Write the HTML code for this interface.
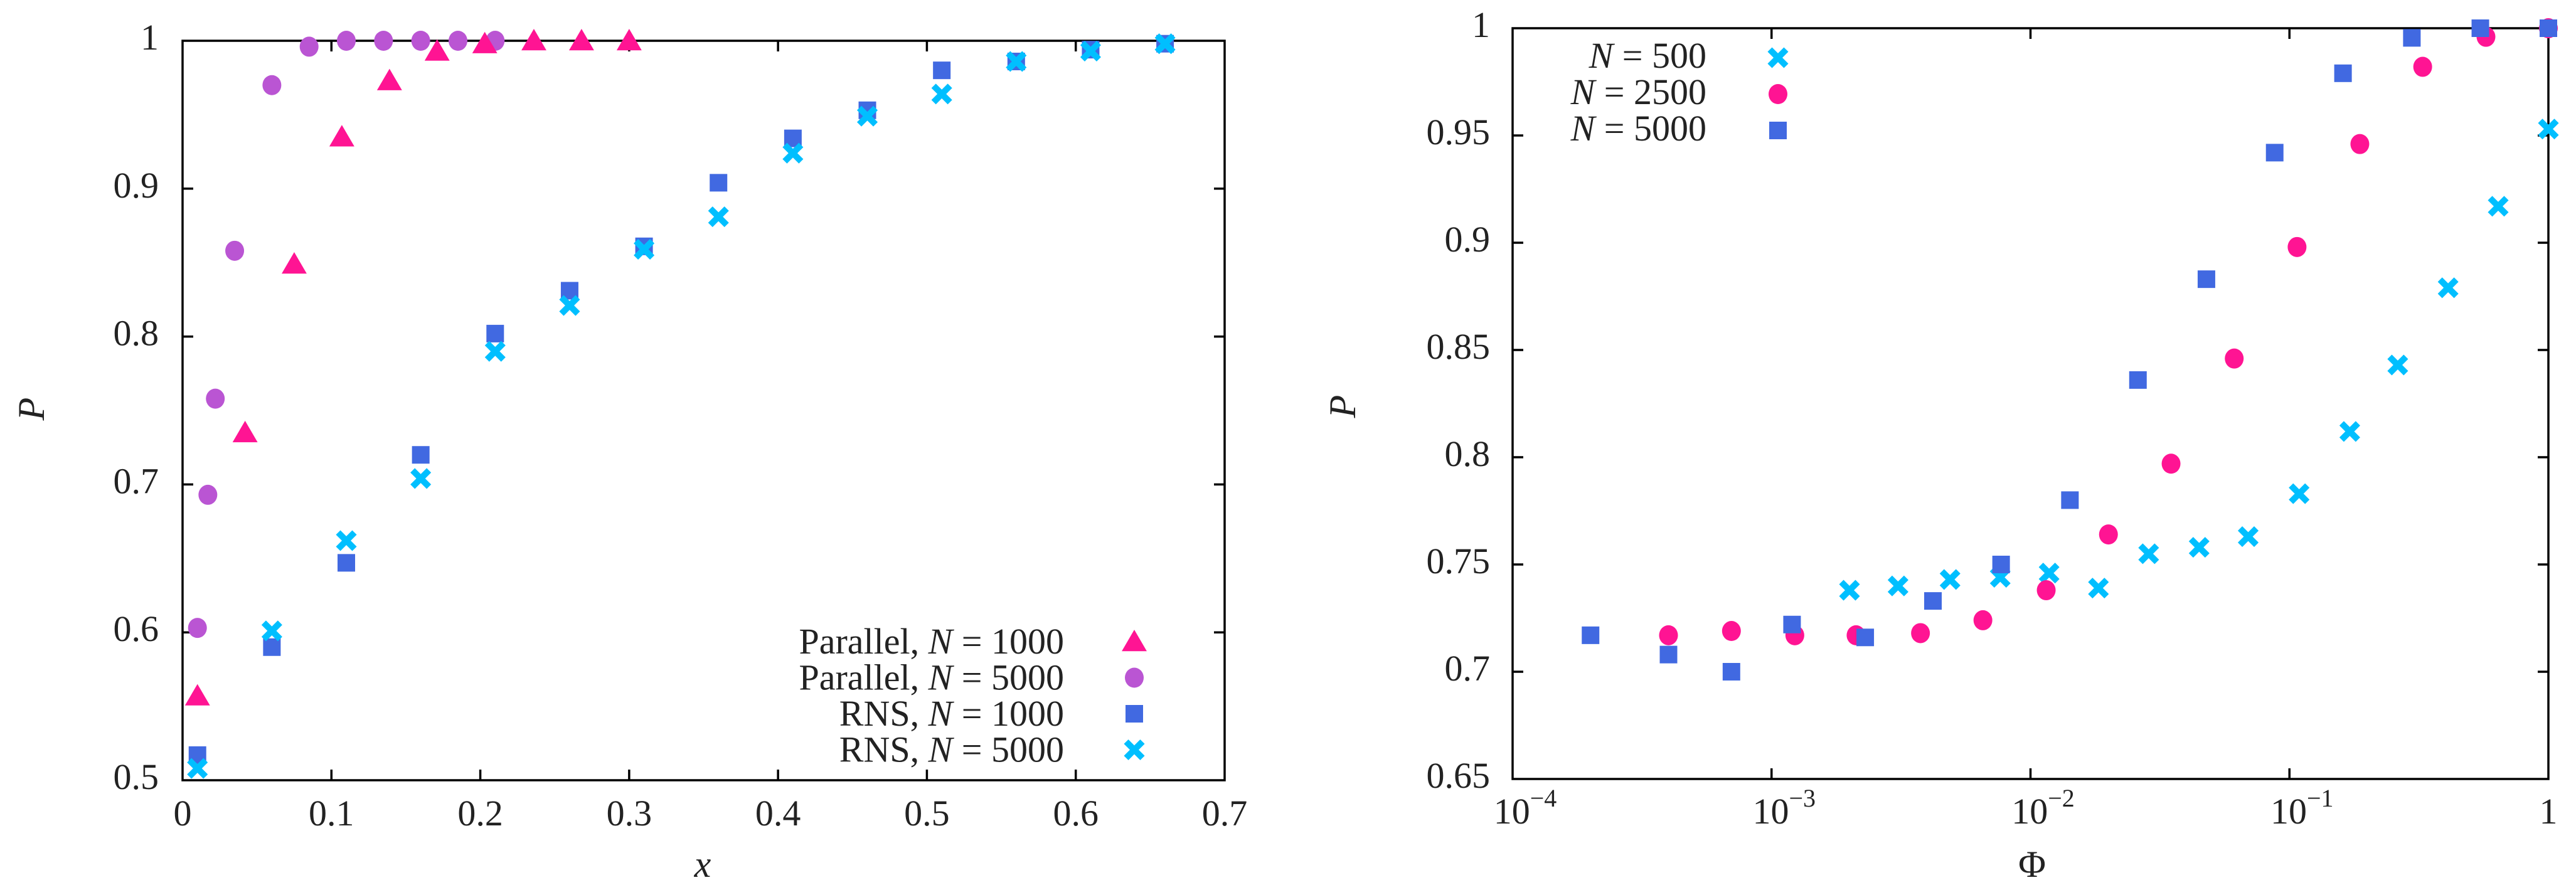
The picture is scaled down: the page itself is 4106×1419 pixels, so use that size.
<!DOCTYPE html>
<html><head><meta charset="utf-8"><style>
html,body{margin:0;padding:0;background:#fff;}
svg{display:block;font-family:"Liberation Serif",serif;}
</style></head><body>
<svg id="fig" width="4106" height="1419" viewBox="0 0 4106 1419" xmlns="http://www.w3.org/2000/svg">
<g id="left"></g>
<g id="right"></g>
</svg>
<script>
// ---- Left chart data ----
const parX1000 = [0.01,0.042,0.075,0.107,0.139,0.171,0.203,0.236,0.268,0.30];
const parP1000 = [0.557,0.735,0.849,0.935,0.973,0.993,0.998,1.0,1.0,1.0];
const parX5000 = [0.01,0.017,0.022,0.035,0.06,0.085,0.11,0.135,0.16,0.185,0.21];
const parP5000 = [0.603,0.693,0.758,0.858,0.970,0.996,1.0,1.0,1.0,1.0,1.0];
const rnsX = [0.01,0.06,0.11,0.16,0.21,0.26,0.31,0.36,0.41,0.46,0.51,0.56,0.61,0.66];
const rnsP1000 = [0.517,0.590,0.647,0.720,0.802,0.831,0.861,0.904,0.934,0.953,0.980,0.986,0.994,0.998];
const rnsP5000 = [0.508,0.601,0.662,0.704,0.790,0.821,0.859,0.881,0.924,0.949,0.964,0.986,0.993,0.998];
const leftXTicks = [0,0.1,0.2,0.3,0.4,0.5,0.6,0.7];
const leftXTickLabels = ["0","0.1","0.2","0.3","0.4","0.5","0.6","0.7"];
const leftYTicks = [0.5,0.6,0.7,0.8,0.9,1];
const leftYTickLabels = ["0.5","0.6","0.7","0.8","0.9","1"];
// ---- Right chart data ----
const phi500 = [0.002,0.00308,0.00489,0.00764,0.0118,0.0183,0.0286,0.0448,0.0693,0.109,0.171,0.262,0.41,0.64,1.0];
const p500 = [0.738,0.740,0.743,0.744,0.746,0.739,0.755,0.758,0.763,0.783,0.812,0.843,0.879,0.917,0.953];
const phi2500 = [0.0004,0.0007,0.00123,0.00212,0.00376,0.00655,0.0115,0.02,0.0349,0.0612,0.107,0.187,0.327,0.574,1.0];
const p2500 = [0.717,0.719,0.717,0.717,0.718,0.724,0.738,0.764,0.797,0.846,0.898,0.946,0.982,0.996,1.0];
const phi5000 = [0.0002,0.0004,0.0007,0.0012,0.0023,0.0042,0.0077,0.0142,0.026,0.0478,0.0877,0.161,0.297,0.546,1.0];
const p5000 = [0.717,0.708,0.700,0.722,0.716,0.733,0.750,0.780,0.836,0.883,0.942,0.979,0.9955,1.0,1.0];
const rightXTicks = [-4,-3,-2,-1,0];
const rightYTicks = [0.65,0.7,0.75,0.8,0.85,0.9,0.95,1];
const rightYTickLabels = ["0.65","0.7","0.75","0.8","0.85","0.9","0.95","1"];

const NS="http://www.w3.org/2000/svg";
function mk(parent,tag,attrs,text){const e=document.createElementNS(NS,tag);for(const k in attrs)e.setAttribute(k,attrs[k]);if(text!==undefined)e.textContent=text;parent.appendChild(e);return e;}
const PINK="#ff1493",ORCHID="#ba55d3",BLUE="#4169e1",CYAN="#00bfff";

function marker(g,type,cx,cy,color){
  let e;
  if(type==="tri"){const s=19;e=mk(g,"polygon",{points:`${cx},${cy-s} ${cx+s*1.05},${cy+s*0.8} ${cx-s*1.05},${cy+s*0.8}`,fill:color});}
  else if(type==="circ"){e=mk(g,"ellipse",{cx:cx,cy:cy,rx:15,ry:16,fill:color});}
  else if(type==="sq"){e=mk(g,"rect",{x:cx-14,y:cy-14,width:28,height:28,fill:color});}
  else {e=mk(g,"path",{d:`M${cx-13},${cy-13}L${cx+13},${cy+13}M${cx+13},${cy-13}L${cx-13},${cy+13}`,stroke:color,"stroke-width":10,fill:"none"});}
  return e;
}

function frame(g,L,R,T,B){
  const f=mk(g,"rect",{x:L,y:T,width:R-L,height:B-T,fill:"none",stroke:"#000","stroke-width":3.5});
  
  
}

// ---------- LEFT ----------
(function(){
  const g=document.getElementById("left");
  const L=291,R=1952,T=65,B=1244;
  const sx=v=>L+(v-0)/0.7*(R-L), sy=v=>B-(v-0.5)/0.5*(B-T);
  frame(g,L,R,T,B);
  leftXTicks.forEach((v,i)=>{const x=sx(v);
    if(i>0&&i<leftXTicks.length-1){mk(g,"line",{x1:x,y1:B,x2:x,y2:B-17,stroke:"#000","stroke-width":3.5});mk(g,"line",{x1:x,y1:T,x2:x,y2:T+17,stroke:"#000","stroke-width":3.5});}
    const t=mk(g,"text",{x:x,y:1316,"text-anchor":"middle","font-size":58,fill:"#222"},leftXTickLabels[i]);
    
    
  });
  leftYTicks.forEach((v,i)=>{const y=sy(v);
    if(i>0&&i<leftYTicks.length-1){mk(g,"line",{x1:L,y1:y,x2:L+17,y2:y,stroke:"#000","stroke-width":3.5});mk(g,"line",{x1:R,y1:y,x2:R-17,y2:y,stroke:"#000","stroke-width":3.5});}
    const t=mk(g,"text",{x:253,y:y+14,"text-anchor":"end","font-size":58,fill:"#222"},leftYTickLabels[i]);
    
    
  });
  const xl=mk(g,"text",{x:1120,y:1398,"text-anchor":"middle","font-size":60,"font-style":"italic",fill:"#222"},"x");
  
  
  const yl=mk(g,"text",{x:0,y:0,"text-anchor":"middle","font-size":60,"font-style":"italic",fill:"#222",transform:"translate(70,652) rotate(-90)"},"P");
  
  
  const series=[[rnsX,rnsP1000,"sq",BLUE],[rnsX,rnsP5000,"x",CYAN],[parX5000,parP5000,"circ",ORCHID],[parX1000,parP1000,"tri",PINK]];
  series.forEach(s=>{s[0].forEach((xv,i)=>{const m=marker(g,s[2],sx(xv),sy(s[1][i]),s[3]);
    
    
  });});
  const leg=[["Parallel, ","1000","tri",PINK],["Parallel, ","5000","circ",ORCHID],["RNS, ","1000","sq",BLUE],["RNS, ","5000","x",CYAN]];
  leg.forEach((l,i)=>{const cy=1023+i*57.5;
    const t=mk(g,"text",{x:1696,y:cy+19,"text-anchor":"end","font-size":58,fill:"#222"});
    
    
    mk(t,"tspan",{},l[0]);mk(t,"tspan",{"font-style":"italic"},"N");mk(t,"tspan",{}," = "+l[1]);
    const m=marker(g,l[2],1808,cy,l[3]);
    
    
  });
})();

// ---------- RIGHT ----------
(function(){
  const g=document.getElementById("right");
  const L=2411,R=4062,T=45,B=1242;
  const sx=v=>L+(Math.log10(v)+4)/4*(R-L), sy=v=>B-(v-0.65)/0.35*(B-T);
  frame(g,L,R,T,B);
  rightXTicks.forEach((e,i)=>{const x=L+(e+4)/4*(R-L);
    if(i>0&&i<rightXTicks.length-1){mk(g,"line",{x1:x,y1:B,x2:x,y2:B-17,stroke:"#000","stroke-width":3.5});mk(g,"line",{x1:x,y1:T,x2:x,y2:T+17,stroke:"#000","stroke-width":3.5});}
    let t;
    if(e===0){t=mk(g,"text",{x:x,y:1313,"text-anchor":"middle","font-size":58,fill:"#222"},"1");}
    else{t=mk(g,"text",{x:x+20,y:1313,"text-anchor":"middle","font-size":58,fill:"#222"});
      mk(t,"tspan",{},"10");mk(t,"tspan",{dy:-27,"font-size":40},"−"+(-e));}
    
    
  });
  rightYTicks.forEach((v,i)=>{const y=sy(v);
    if(i>0&&i<rightYTicks.length-1){mk(g,"line",{x1:L,y1:y,x2:L+17,y2:y,stroke:"#000","stroke-width":3.5});mk(g,"line",{x1:R,y1:y,x2:R-17,y2:y,stroke:"#000","stroke-width":3.5});}
    const t=mk(g,"text",{x:2375,y:y+14,"text-anchor":"end","font-size":58,fill:"#222"},rightYTickLabels[i]);
    
    
  });
  const xl=mk(g,"text",{x:3239,y:1398,"text-anchor":"middle","font-size":60,fill:"#222"},"Φ");
  
  
  const yl=mk(g,"text",{x:0,y:0,"text-anchor":"middle","font-size":60,"font-style":"italic",fill:"#222",transform:"translate(2160,648) rotate(-90)"},"P");
  
  
  const series=[[phi500,p500,"x",CYAN],[phi2500,p2500,"circ",PINK],[phi5000,p5000,"sq",BLUE]];
  series.forEach(s=>{s[0].forEach((xv,i)=>{const m=marker(g,s[2],sx(xv),sy(s[1][i]),s[3]);
    
    
  });});
  const leg=[["500","x",CYAN],["2500","circ",PINK],["5000","sq",BLUE]];
  leg.forEach((l,i)=>{const cy=92+i*58;
    const t=mk(g,"text",{x:2720,y:cy+16,"text-anchor":"end","font-size":58,fill:"#222"});
    
    
    mk(t,"tspan",{"font-style":"italic"},"N");mk(t,"tspan",{}," = "+l[0]);
    const m=marker(g,l[1],2834,cy,l[2]);
    
    
  });
})();
</script>
</body></html>
